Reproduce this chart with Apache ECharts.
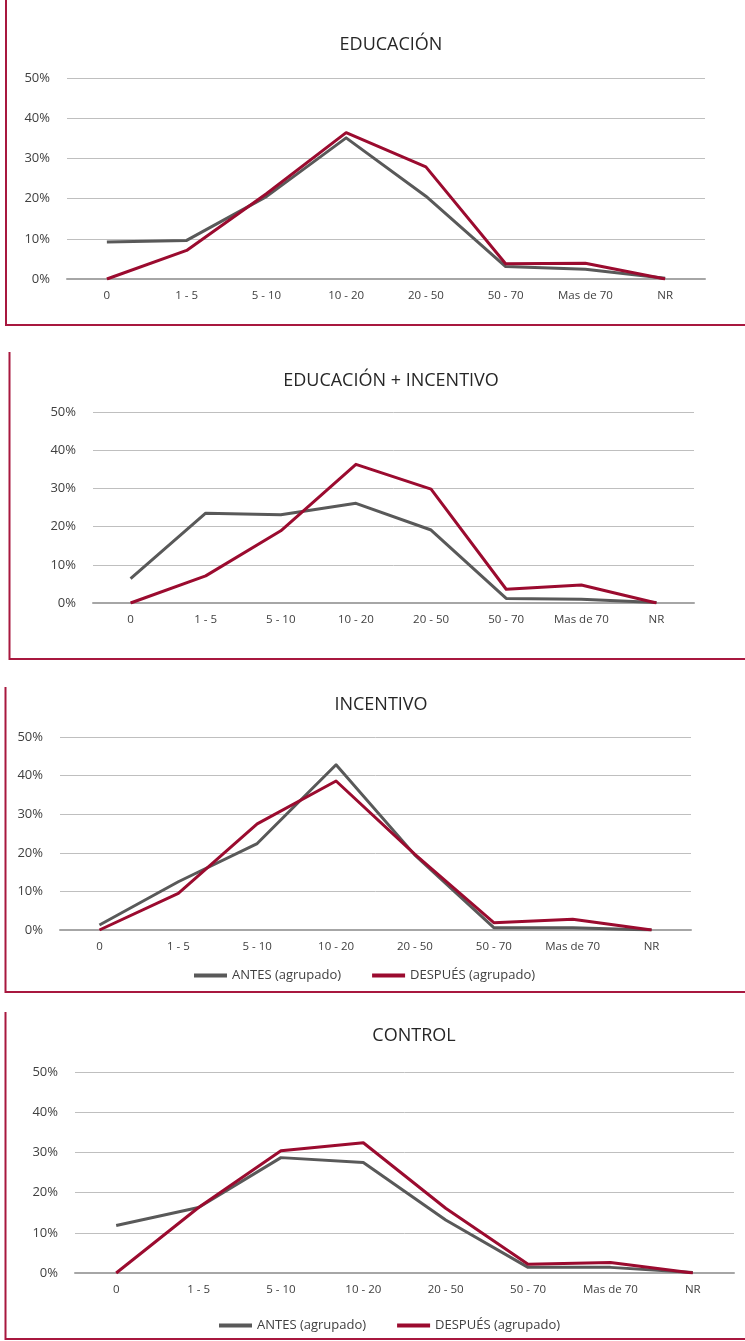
<!DOCTYPE html>
<html>
<head>
<meta charset="utf-8">
<script src="https://cdn.jsdelivr.net/npm/echarts@6/dist/echarts.min.js"></script>
<style>
  html, body { margin: 0; padding: 0; background: #ffffff; }
  #chart { width: 745px; height: 1341px; }
</style>
</head>
<body>
<div id="chart"></div>
<script>
// Age-group categories shared by all four panels
const categories = ['0', '1 - 5', '5 - 10', '10 - 20', '20 - 50', '50 - 70', 'Mas de 70', 'NR'];
const yTicks = [0, 10, 20, 30, 40, 50];
const seriesNames = ['ANTES (agrupado)', 'DESPUÉS (agrupado)'];
const panelTitles = ['EDUCACIÓN', 'EDUCACIÓN + INCENTIVO', 'INCENTIVO', 'CONTROL'];

// Percentages per panel: before (antes) and after (después)
const educacionAntes   = [9.2, 9.6, 20.5, 35.1, 20.6, 3.1, 2.4, 0.2];
const educacionDespues = [0, 7.1, 21.2, 36.4, 27.9, 3.8, 3.9, 0];
const eduIncAntes      = [6.4, 23.5, 23.1, 26.1, 19.1, 1.2, 1.0, 0.1];
const eduIncDespues    = [0, 7.1, 18.9, 36.3, 29.8, 3.6, 4.7, 0];
const incentivoAntes   = [1.3, 12.5, 22.4, 42.8, 19.4, 0.6, 0.6, 0];
const incentivoDespues = [0, 9.5, 27.5, 38.6, 19.6, 1.9, 2.8, 0];
const controlAntes     = [11.8, 16.3, 28.7, 27.5, 13.2, 1.4, 1.4, 0.1];
const controlDespues   = [0, 16.3, 30.4, 32.4, 16.1, 2.2, 2.6, 0];

const panelData = [
  [educacionAntes, educacionDespues],
  [eduIncAntes, eduIncDespues],
  [incentivoAntes, incentivoDespues],
  [controlAntes, controlDespues]
];

const FONT = '"Open Sans", "Noto Sans", sans-serif';
const GRAY = '#595959';
const RED = '#9b0b2f';
const FRAME = '#a8183f';

// Plot areas for the four stacked panels
const grids = [
  { left: 67, top: 78, width: 638, height: 201 },
  { left: 93, top: 412, width: 601, height: 191 },
  { left: 60, top: 737, width: 631, height: 193 },
  { left: 75, top: 1072, width: 659, height: 201 }
];
// Title centres and panel frames (left edge, top, bottom)
const titlePos = [ { x: 386, y: 43 }, { x: 386, y: 379 }, { x: 376, y: 703 }, { x: 409, y: 1034 } ];
const frames = [
  { x: 6, top: 0, bottom: 325 },
  { x: 9.5, top: 352, bottom: 659 },
  { x: 5.5, top: 687, bottom: 992 },
  { x: 5.5, top: 1012, bottom: 1339 }
];

const xAxes = grids.map((g, i) => ({
  type: 'category',
  gridIndex: i,
  data: categories,
  boundaryGap: true,
  axisTick: { show: false },
  axisLine: { show: true, lineStyle: { color: '#a6a6a6', width: 2 } },
  axisLabel: { color: '#404040', fontSize: 11.5, fontFamily: FONT, margin: 11, interval: 0 }
}));

const yAxes = grids.map((g, i) => ({
  type: 'value',
  gridIndex: i,
  min: yTicks[0],
  max: yTicks[yTicks.length - 1],
  interval: 10,
  axisLine: { show: false },
  axisTick: { show: false },
  splitLine: { lineStyle: { color: '#bfbfbf', width: 1 } },
  axisLabel: { color: '#404040', fontSize: 13, fontFamily: FONT, margin: 17, formatter: v => v + '%' }
}));

const series = [];
panelData.forEach((pair, i) => {
  pair.forEach((vals, k) => {
    series.push({
      type: 'line',
      name: seriesNames[k],
      xAxisIndex: i,
      yAxisIndex: i,
      data: vals,
      showSymbol: false,
      symbol: 'none',
      lineStyle: { color: k === 0 ? GRAY : RED, width: 3, join: 'round' },
      itemStyle: { color: k === 0 ? GRAY : RED },
      z: k === 0 ? 2 : 3,
      animation: false
    });
  });
});

const titles = panelTitles.map((t, i) => ({
  text: t,
  left: titlePos[i].x,
  top: titlePos[i].y - 12,
  textAlign: 'center',
  textStyle: { color: '#262626', fontSize: 18, fontWeight: 'normal', fontFamily: FONT }
}));

const legendBase = {
  data: seriesNames,
  orient: 'horizontal',
  icon: 'rect',
  itemWidth: 33,
  itemHeight: 4,
  itemGap: 31,
  selectedMode: false,
  textStyle: { color: '#404040', fontSize: 13, fontFamily: FONT }
};
const legends = [
  Object.assign({}, legendBase, { left: 189, top: 973 - 9 }),
  Object.assign({}, legendBase, { left: 214, top: 1323 - 9 })
];

const graphics = [];
frames.forEach(f => {
  graphics.push({
    type: 'polyline',
    silent: true,
    shape: { points: [[f.x, f.top], [f.x, f.bottom], [745, f.bottom]] },
    style: { stroke: FRAME, lineWidth: 2, fill: null }
  });
});

const chart = echarts.init(document.getElementById('chart'), null, { renderer: 'canvas' });
chart.setOption({
  backgroundColor: '#ffffff',
  animation: false,
  title: titles,
  legend: legends,
  grid: grids,
  xAxis: xAxes,
  yAxis: yAxes,
  series: series,
  graphic: graphics
});
</script>
</body>
</html>
